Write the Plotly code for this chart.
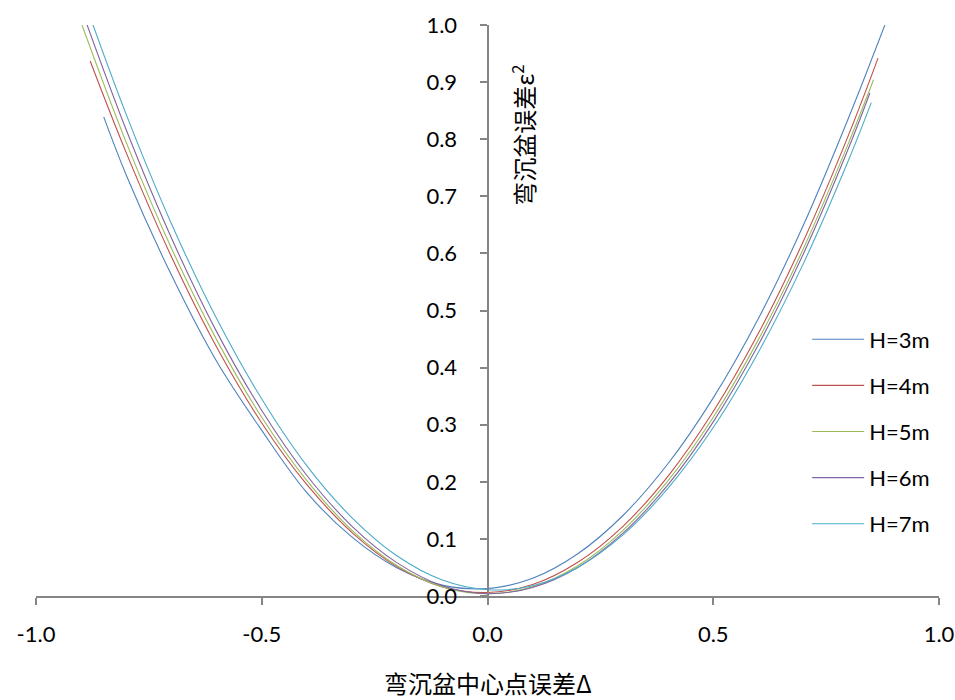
import plotly.graph_objects as go

# Deflection-basin centre-point error Δ and the resulting basin error ε² for each depth H
x_h3 = [-0.85, -0.8, -0.7, -0.6, -0.5, -0.4, -0.3, -0.2, -0.1, 0.0, 0.1, 0.2, 0.3, 0.4, 0.5, 0.6, 0.7, 0.8, 0.88]
y_h3 = [0.839, 0.737, 0.562, 0.411, 0.290, 0.181, 0.103, 0.049, 0.019, 0.013, 0.031, 0.074, 0.141, 0.232, 0.347, 0.486, 0.650, 0.838, 1.000]

x_h4 = [-0.88, -0.8, -0.7, -0.6, -0.5, -0.4, -0.3, -0.2, -0.1, 0.0, 0.1, 0.2, 0.3, 0.4, 0.5, 0.6, 0.7, 0.8, 0.865]
y_h4 = [0.937, 0.776, 0.594, 0.436, 0.303, 0.195, 0.111, 0.051, 0.016, 0.006, 0.020, 0.059, 0.122, 0.210, 0.323, 0.460, 0.622, 0.808, 0.942]

x_h5 = [-0.9, -0.8, -0.7, -0.6, -0.5, -0.4, -0.3, -0.2, -0.1, 0.0, 0.1, 0.2, 0.3, 0.4, 0.5, 0.6, 0.7, 0.8, 0.855]
y_h5 = [1.004, 0.794, 0.609, 0.449, 0.313, 0.202, 0.115, 0.053, 0.016, 0.004, 0.016, 0.053, 0.115, 0.202, 0.313, 0.449, 0.609, 0.794, 0.904]

x_h6 = [-0.9, -0.8, -0.7, -0.6, -0.5, -0.4, -0.3, -0.2, -0.1, 0.0, 0.1, 0.2, 0.3, 0.4, 0.5, 0.6, 0.7, 0.8, 0.847]
y_h6 = [1.029, 0.816, 0.627, 0.463, 0.325, 0.211, 0.122, 0.058, 0.018, 0.004, 0.015, 0.050, 0.110, 0.195, 0.305, 0.440, 0.600, 0.785, 0.881]

x_h7 = [-0.9, -0.8, -0.7, -0.6, -0.5, -0.4, -0.3, -0.2, -0.1, 0.0, 0.1, 0.2, 0.3, 0.4, 0.5, 0.6, 0.7, 0.8, 0.85]
y_h7 = [1.058, 0.843, 0.652, 0.486, 0.345, 0.228, 0.137, 0.070, 0.028, 0.011, 0.018, 0.050, 0.107, 0.189, 0.295, 0.427, 0.583, 0.764, 0.864]

series_names = ["H=3m", "H=4m", "H=5m", "H=6m", "H=7m"]
series_x = [x_h3, x_h4, x_h5, x_h6, x_h7]
series_y = [y_h3, y_h4, y_h5, y_h6, y_h7]
series_colors = ["#4F81BD", "#C0504D", "#9BBB59", "#8064A2", "#4BACC6"]

x_ticks = [-1.0, -0.5, 0.0, 0.5, 1.0]
y_ticks = [0.0, 0.1, 0.2, 0.3, 0.4, 0.5, 0.6, 0.7, 0.8, 0.9, 1.0]

x_title = "弯沉盆中心点误差Δ"
y_title = "弯沉盆误差ε<sup>2</sup>"

LATIN = "Lato, 'Liberation Sans', sans-serif"
CJK = "'Noto Sans CJK SC', sans-serif"
AXIS_GREY = "#868686"

fig = go.Figure()
for i, (name, xs, ys, col) in enumerate(zip(series_names, series_x, series_y, series_colors)):
    fig.add_trace(go.Scatter(
        x=xs, y=ys, name=name, mode="lines",
        line=dict(color=col, width=1.1, shape="spline", smoothing=1.0),
        legendgroup=f"g{i}",
    ))

fig.update_layout(
    width=955, height=700,
    margin=dict(l=36, r=16, t=25, b=104),
    paper_bgcolor="white", plot_bgcolor="white",
    font=dict(family=LATIN, size=22, color="#000000"),
    showlegend=True,
    legend=dict(
        x=0.854, y=0.486, xanchor="left", yanchor="top",
        bgcolor="rgba(0,0,0,0)", itemwidth=52, tracegroupgap=14.5,
        font=dict(family=LATIN, size=22),
    ),
    xaxis=dict(
        range=[-1, 1], tickvals=x_ticks, ticktext=[f"{v:.1f}" for v in x_ticks],
        showgrid=False, zeroline=False, automargin=False,
        showline=True, linecolor=AXIS_GREY, linewidth=2,
        ticks="outside", ticklen=7, tickwidth=2, tickcolor=AXIS_GREY,
        ticklabelstandoff=11,
    ),
    yaxis=dict(
        range=[0, 1], tickvals=y_ticks, ticktext=[f"{v:.1f}" for v in y_ticks],
        anchor="free", position=0.5, automargin=False,
        showgrid=False, zeroline=False,
        showline=True, linecolor=AXIS_GREY, linewidth=2,
        ticks="outside", ticklen=7, tickwidth=2, tickcolor=AXIS_GREY,
        ticklabelstandoff=18,
    ),
    annotations=[
        dict(text=x_title, xref="paper", yref="paper", x=0.5, y=-0.152,
             xanchor="center", yanchor="middle", showarrow=False,
             font=dict(family=CJK, size=24)),
        dict(text=y_title, xref="paper", yref="paper", x=0.540, y=0.807,
             xanchor="center", yanchor="middle", showarrow=False, textangle=-90,
             font=dict(family=CJK, size=24)),
    ],
)

fig.write_html("out.html")
